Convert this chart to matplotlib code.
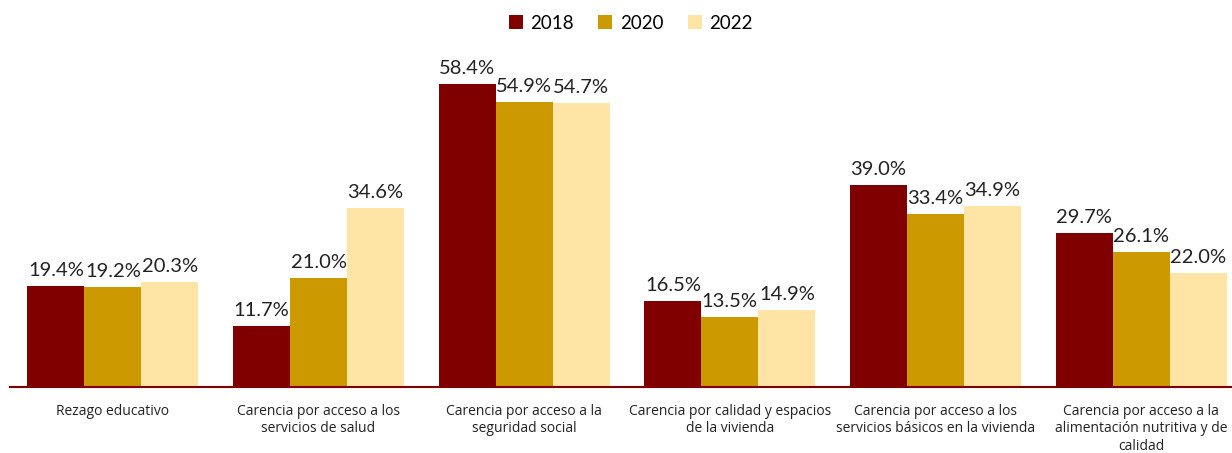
import numpy as np
import matplotlib.pyplot as plt

categories = [
    "Rezago educativo",
    "Carencia por acceso a los\nservicios de salud",
    "Carencia por acceso a la\nseguridad social",
    "Carencia por calidad y espacios\nde la vivienda",
    "Carencia por acceso a los\nservicios básicos en la vivienda",
    "Carencia por acceso a la\nalimentación nutritiva y de\ncalidad",
]
years = ["2018", "2020", "2022"]
v2018 = [19.4, 11.7, 58.4, 16.5, 39.0, 29.7]
v2020 = [19.2, 21.0, 54.9, 13.5, 33.4, 26.1]
v2022 = [20.3, 34.6, 54.7, 14.9, 34.9, 22.0]
colors = ["#800000", "#CC9900", "#FFE5A5"]

fig = plt.figure(figsize=(12.32, 4.53), dpi=100)
ax = fig.add_axes([10 / 1232, 66 / 453, 1234 / 1232, (387 - 24) / 453])

x = np.arange(len(categories))
w = 0.277
for i, (vals, yr) in enumerate(zip([v2018, v2020, v2022], years)):
    pos = x + (i - 1) * w
    ax.bar(pos, vals, width=w, color=colors[i], label=yr)
    for p, v in zip(pos, vals):
        ax.annotate(f"{v:.1f}%", (p, v), xytext=(0, 5), textcoords="offset points",
                    ha="center", va="bottom", fontsize=14.5, family="Lato", color="#222222")

ax.set_xlim(-0.5, len(categories) - 0.5)
ax.set_ylim(0, 70)
ax.set_yticks([])
ax.set_xticks(x)
ax.set_xticklabels(categories, fontsize=10, family="Open Sans", color="#222222",
                   linespacing=1.25)
ax.tick_params(axis="x", length=0, pad=12)
for s in ["top", "right", "left"]:
    ax.spines[s].set_visible(False)
ax.spines["bottom"].set_color("#800000")
ax.spines["bottom"].set_linewidth(1.5)

fig.legend(loc="upper center", bbox_to_anchor=(0.512, 1.005), ncol=3, frameon=False,
           prop={"family": "Lato", "size": 13.5}, handlelength=0.75, handleheight=0.75,
           handletextpad=0.4, columnspacing=1.3)

fig.savefig("out.png", dpi=100)
